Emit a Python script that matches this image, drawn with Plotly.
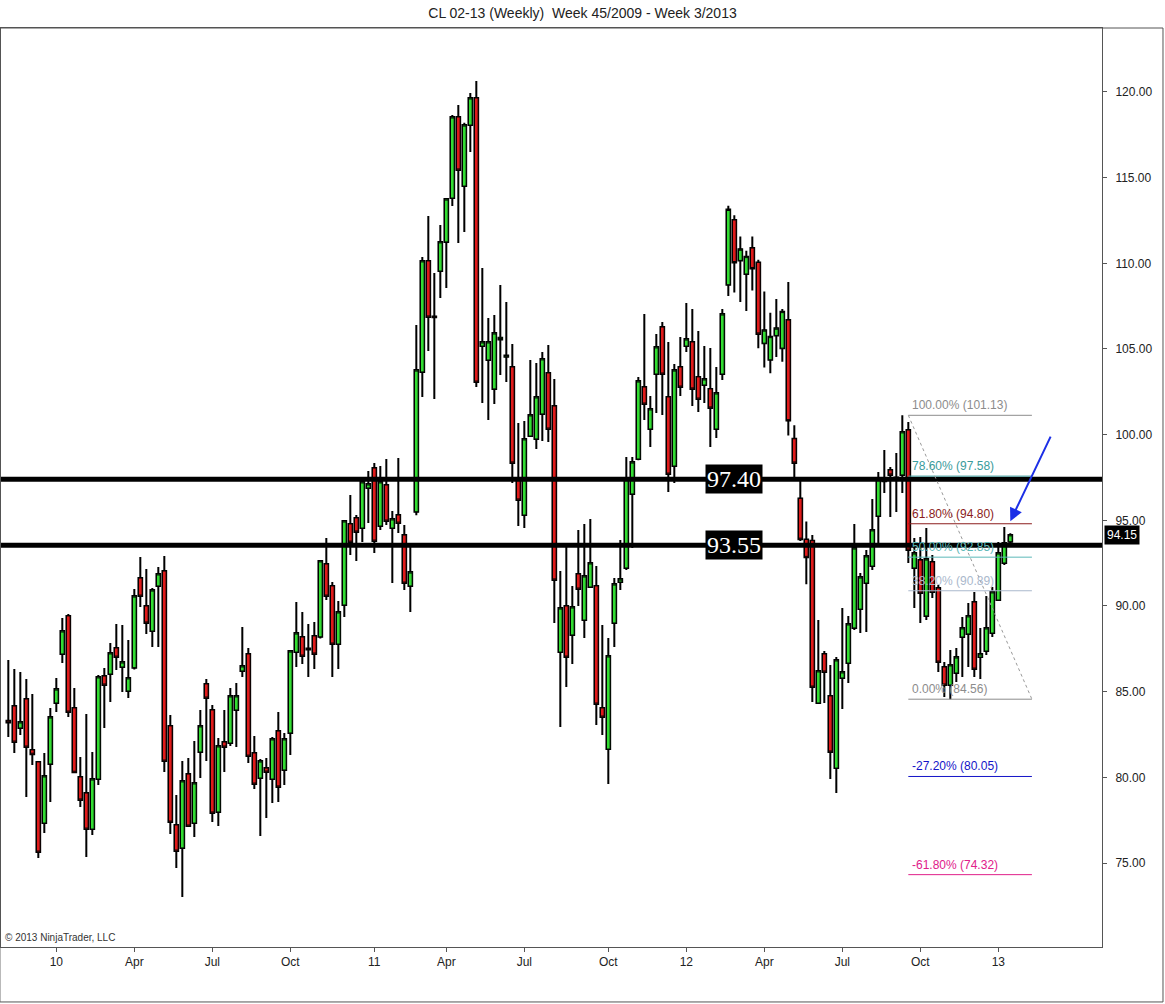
import plotly.graph_objects as go
import pandas as pd

# weekly bars CL 02-13, week 45/2009 .. week 3/2013 (bar dates = friday)
start = pd.Timestamp("2009-11-06")
n_bars = 168

opens = [
    83.30, 84.16, 82.88, 84.57, 81.60, 80.90, 77.33, 80.78, 84.34, 87.20,
    89.42, 84.05, 80.02, 79.08, 76.98, 79.90, 85.91, 86.03, 87.55, 86.44,
    85.04, 86.40, 91.63, 90.00, 88.54, 91.17, 92.04, 83.00, 77.22, 75.88,
    80.19, 77.33, 81.48, 85.45, 83.93, 77.98, 82.06, 82.00, 83.93, 86.21,
    87.20, 81.42, 79.96, 80.54, 79.90, 82.70, 80.43, 82.59, 87.31, 88.19,
    87.52, 88.25, 88.20, 92.45, 91.17, 87.78, 90.06, 94.79, 95.14, 94.55,
    96.89, 98.05, 94.67, 97.06, 94.55, 95.31, 94.14, 91.17, 95.50, 103.66,
    110.14, 106.90, 109.55, 111.25, 113.81, 118.54, 114.51, 118.07, 119.65, 105.17,
    104.36, 102.67, 105.55, 104.55, 103.95, 97.47, 95.31, 99.92, 99.75, 101.21,
    103.60, 101.67, 87.31, 90.00, 88.31, 91.87, 89.18, 91.11, 91.17, 84.05,
    81.65, 89.01, 91.40, 92.22, 96.54, 98.58, 102.78, 100.33, 103.54, 106.28,
    102.20, 98.17, 103.95, 105.17, 105.41, 103.37, 102.90, 102.67, 100.33, 103.54,
    108.75, 112.53, 110.17, 109.38, 110.89, 110.05, 105.34, 104.37, 105.79, 105.05,
    106.69, 99.76, 96.28, 93.88, 93.81, 84.34, 87.20, 84.75, 80.54, 85.80,
    86.67, 88.72, 89.82, 91.34, 92.33, 95.25, 97.28, 97.94, 97.45, 97.65,
    100.27, 92.22, 92.68, 89.42, 92.57, 91.05, 86.44, 85.39, 86.09, 88.19,
    88.37, 90.23, 87.02, 87.37, 88.42, 90.35, 92.51, 93.75,
]
highs = [
    86.85, 86.32, 86.15, 85.74, 84.86, 80.95, 81.42, 84.05, 85.80, 89.30,
    89.53, 85.21, 81.19, 83.70, 81.48, 85.97, 86.38, 87.84, 88.95, 88.89,
    88.01, 90.99, 92.86, 92.16, 91.05, 92.28, 92.92, 83.64, 78.97, 80.95,
    81.13, 82.12, 83.93, 85.74, 84.22, 82.30, 83.93, 85.21, 85.51, 88.77,
    87.55, 82.41, 81.07, 81.13, 82.35, 83.81, 82.59, 87.43, 90.23, 89.65,
    88.95, 89.07, 92.68, 93.97, 91.40, 90.29, 95.02, 96.48, 95.31, 97.35,
    97.88, 98.35, 98.17, 98.58, 95.54, 98.64, 94.73, 93.44, 106.40, 110.37,
    112.76, 109.44, 112.24, 113.81, 118.66, 119.24, 118.20, 119.94, 120.64, 109.73,
    106.81, 106.98, 108.74, 107.74, 105.29, 100.68, 100.80, 104.36, 104.18, 104.82,
    105.23, 103.25, 92.04, 93.44, 91.17, 94.44, 94.79, 95.08, 92.33, 88.89,
    88.13, 91.63, 93.85, 98.70, 98.70, 103.37, 107.04, 102.26, 105.88, 106.58,
    105.41, 104.12, 105.70, 107.68, 107.33, 106.05, 105.17, 105.06, 103.95, 107.33,
    113.36, 112.80, 111.56, 110.73, 111.56, 110.21, 108.35, 107.11, 107.92, 107.33,
    108.91, 100.55, 97.30, 94.93, 94.14, 89.18, 87.37, 86.56, 87.02, 89.88,
    89.42, 94.79, 91.93, 93.27, 96.24, 97.82, 99.10, 98.11, 98.93, 101.13,
    100.74, 93.97, 94.03, 94.55, 92.98, 91.23, 86.73, 87.43, 87.55, 89.36,
    90.17, 90.82, 88.72, 90.58, 91.11, 93.73, 94.61, 94.25,
]
lows = [
    82.35, 81.42, 82.47, 78.85, 80.72, 75.29, 76.75, 78.56, 83.81, 86.67,
    83.52, 80.25, 78.27, 75.35, 76.63, 79.55, 82.88, 84.40, 86.26, 84.98,
    84.63, 86.30, 89.94, 88.37, 87.61, 87.61, 80.31, 76.69, 74.71, 73.02,
    77.10, 76.52, 79.96, 80.95, 77.39, 77.16, 80.31, 81.83, 81.77, 85.86,
    80.84, 79.32, 76.58, 77.63, 78.50, 78.56, 79.55, 81.30, 86.44, 86.61,
    85.86, 86.32, 88.10, 90.35, 85.86, 86.32, 89.36, 92.98, 92.63, 93.73,
    94.84, 93.09, 94.44, 94.73, 91.34, 94.26, 90.93, 89.65, 95.30, 102.20,
    104.88, 102.08, 107.98, 108.56, 113.35, 111.19, 111.83, 116.50, 102.78, 101.85,
    100.86, 101.79, 103.48, 103.07, 97.18, 94.67, 94.55, 99.86, 99.16, 99.63,
    99.57, 89.01, 82.94, 85.27, 86.61, 90.00, 88.13, 91.05, 83.05, 82.47,
    79.61, 87.61, 90.93, 92.10, 93.38, 98.50, 100.86, 99.28, 101.26, 101.15,
    96.65, 97.18, 102.26, 104.82, 101.67, 101.32, 101.85, 99.28, 99.81, 103.19,
    108.09, 108.30, 107.74, 107.22, 108.41, 105.05, 103.92, 103.58, 104.53, 104.26,
    99.95, 97.52, 93.80, 91.27, 84.40, 84.30, 84.34, 79.90, 79.08, 83.99,
    85.51, 88.60, 88.42, 88.48, 92.10, 93.56, 96.60, 95.19, 95.49, 96.60,
    92.51, 89.88, 89.01, 89.18, 90.47, 86.15, 84.69, 84.56, 85.56, 85.86,
    86.44, 85.86, 85.74, 87.14, 88.19, 90.30, 92.39, 93.55,
]
closes = [
    83.20, 82.06, 83.23, 81.77, 81.35, 75.64, 80.08, 83.52, 85.15, 88.54,
    83.81, 80.30, 78.68, 76.98, 79.90, 85.86, 85.39, 87.26, 87.02, 86.73,
    85.80, 90.58, 90.58, 89.01, 90.93, 91.87, 80.95, 77.39, 75.70, 79.79,
    77.16, 79.67, 83.00, 84.63, 77.92, 81.83, 81.77, 84.75, 84.75, 86.50,
    81.24, 79.61, 80.95, 80.31, 82.24, 79.44, 82.24, 87.37, 88.42, 87.08,
    87.46, 87.20, 92.63, 90.58, 87.78, 89.65, 94.96, 93.73, 94.32, 97.24,
    97.12, 93.79, 97.24, 94.96, 95.08, 94.84, 91.34, 91.98, 103.77, 110.14,
    106.87, 106.85, 111.25, 113.75, 118.54, 115.45, 118.07, 119.65, 103.07, 105.41,
    105.41, 105.93, 105.65, 104.62, 98.35, 96.19, 99.75, 101.15, 102.20, 104.42,
    100.33, 91.52, 89.88, 87.02, 89.94, 90.99, 91.75, 92.51, 84.28, 83.52,
    87.08, 91.28, 91.57, 97.41, 98.40, 103.13, 101.79, 101.50, 105.12, 103.54,
    97.70, 103.77, 102.78, 105.58, 102.67, 102.08, 103.25, 101.56, 102.43, 107.04,
    113.14, 110.05, 110.82, 110.39, 109.70, 105.88, 106.10, 105.72, 106.21, 107.18,
    100.82, 98.35, 93.90, 92.84, 85.27, 86.21, 86.15, 81.48, 86.85, 86.15,
    88.95, 93.38, 91.69, 92.92, 94.44, 97.41, 97.32, 97.65, 97.50, 100.16,
    93.27, 93.09, 90.76, 92.74, 90.82, 86.73, 85.39, 86.56, 87.02, 88.72,
    89.42, 86.32, 87.20, 88.72, 90.82, 93.09, 93.68, 94.15,
]

# support / resistance lines
hlines = [97.40, 93.55]

# fibonacci retracement 101.13 -> 84.56
fib_pct = ["100.00%", "78.60%", "61.80%", "50.00%", "38.20%", "0.00%", "-27.20%", "-61.80%"]
fib_val = [101.13, 97.58, 94.80, 92.85, 90.89, 84.56, 80.05, 74.32]
fib_col = ["#8c8c8c", "#3a9c9c", "#8b1c1c", "#5cb8b8", "#aab8cc", "#8c8c8c", "#1414c8", "#e0208a"]

x_ticks = ["2010-01-01", "2010-04-02", "2010-07-02", "2010-10-01", "2011-01-07", "2011-04-01",
           "2011-07-01", "2011-10-07", "2012-01-06", "2012-04-06", "2012-07-06", "2012-10-05",
           "2013-01-04"]
x_labels = ["10", "Apr", "Jul", "Oct", "11", "Apr", "Jul", "Oct", "12", "Apr", "Jul", "Oct", "13"]
y_ticks = [75, 80, 85, 90, 95, 100, 105, 110, 115, 120]
last_price = 94.15

dates = [start + pd.Timedelta(days=7 * i) for i in range(n_bars)]


def bar_date(i):
    return start + pd.Timedelta(days=7 * i)


FONT = "Arial, Liberation Sans, sans-serif"
UP, DOWN = "#33dd33", "#e01b1b"

body_hi = [max(o, c) for o, c in zip(opens, closes)]
body_lo = [min(o, c) for o, c in zip(opens, closes)]

fig = go.Figure()
# first pass: thick wicks
fig.add_trace(go.Candlestick(
    x=dates, open=opens, high=highs, low=lows, close=closes,
    increasing=dict(fillcolor=UP, line=dict(color="black", width=2)),
    decreasing=dict(fillcolor=DOWN, line=dict(color="black", width=2)),
    whiskerwidth=0, showlegend=False, hoverinfo="skip",
))
# second pass: bodies with thin outline
fig.add_trace(go.Candlestick(
    x=dates, open=opens, high=body_hi, low=body_lo, close=closes,
    increasing=dict(fillcolor=UP, line=dict(color="black", width=1)),
    decreasing=dict(fillcolor=DOWN, line=dict(color="black", width=1)),
    whiskerwidth=0, showlegend=False, hoverinfo="skip",
))

shapes = []
for v in hlines:
    shapes.append(dict(type="line", xref="paper", x0=0, x1=1, yref="y", y0=v, y1=v,
                       line=dict(color="black", width=5)))

fx0, fx1 = bar_date(150), bar_date(170.6)
for v, c in zip(fib_val, fib_col):
    shapes.append(dict(type="line", xref="x", x0=fx0, x1=fx1, yref="y", y0=v, y1=v,
                       line=dict(color=c, width=1)))
shapes.append(dict(type="line", xref="x", x0=fx0, x1=fx1, yref="y", y0=fib_val[0], y1=fib_val[5],
                   line=dict(color="#9a9a9a", width=1, dash="dot")))
# outer frame
shapes.append(dict(type="rect", xref="paper", yref="paper", x0=-0.001, x1=1.0554, y0=-0.0598, y1=1.0,
                   line=dict(color="#555555", width=1), fillcolor="rgba(0,0,0,0)"))

annotations = []
for v in hlines:
    annotations.append(dict(xref="paper", x=0.666, y=v, yref="y", text="%.2f" % v, showarrow=False,
                            bgcolor="black", borderpad=1,
                            font=dict(family="Liberation Serif, Times New Roman, serif", size=24,
                                      color="white")))
for p, v, c in zip(fib_pct, fib_val, fib_col):
    annotations.append(dict(x=bar_date(150.3), y=v, xanchor="left", yanchor="bottom", yshift=1,
                            text="%s (%.2f)" % (p, v), showarrow=False,
                            font=dict(family=FONT, size=12, color=c)))
# blue arrow to last bar
annotations.append(dict(x=bar_date(167), y=94.95, ax=41, ay=-86, text="", showarrow=True,
                        arrowcolor="#1c2fe6", arrowwidth=2, arrowhead=2, arrowsize=1.3))
# last price marker
annotations.append(dict(xref="paper", x=1.0, xanchor="left", xshift=2, y=last_price, yref="y",
                        text="%.2f" % last_price, showarrow=False, bgcolor="black", borderpad=2,
                        font=dict(family=FONT, size=12, color="white")))
annotations.append(dict(xref="paper", yref="paper", x=0.002, y=0.002, xanchor="left", yanchor="bottom",
                        text="© 2013 NinjaTrader, LLC", showarrow=False,
                        font=dict(family=FONT, size=10, color="#333333")))

fig.update_layout(
    width=1165, height=1004,
    margin=dict(l=1, r=63, t=28, b=57),
    paper_bgcolor="white", plot_bgcolor="white",
    boxgap=0.12,
    title=dict(text="CL 02-13 (Weekly)  Week 45/2009 - Week 3/2013", x=0.5, xref="container",
               y=0.987, yanchor="middle", font=dict(family=FONT, size=14, color="#222222")),
    shapes=shapes, annotations=annotations,
    font=dict(family=FONT, size=12, color="#222222"),
)
fig.update_xaxes(
    type="date", range=[bar_date(-1.22), bar_date(182.28)],
    rangeslider=dict(visible=False), showgrid=False, zeroline=False,
    tickvals=x_ticks, ticktext=x_labels, ticks="outside", ticklen=4, tickcolor="#555555",
    showline=True, linecolor="#555555", mirror=True,
)
fig.update_yaxes(
    side="right", range=[70.097, 123.735], showgrid=False, zeroline=False,
    tickvals=y_ticks, ticktext=["%.2f" % t for t in y_ticks], ticks="outside", ticklen=4,
    tickcolor="#555555", showline=True, linecolor="#555555", mirror=True, ticklabelstandoff=6,
)

fig.write_html("out.html", config={"displayModeBar": False},
               post_script="document.body.style.margin='0px';")
